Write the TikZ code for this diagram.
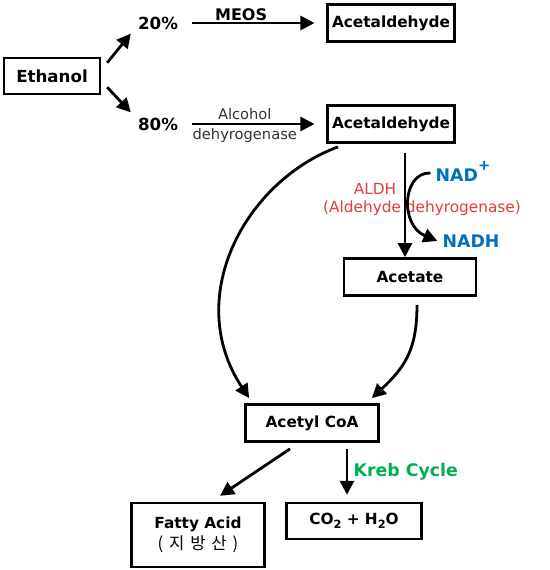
\documentclass[tikz,border=0pt]{standalone}
\usepackage{fontspec}
\setmainfont{DejaVu Sans}
\newfontfamily\krfont[LetterSpace=35]{Noto Sans CJK KR}
\usetikzlibrary{arrows.meta, positioning}
\definecolor{nadblue}{RGB}{0,112,192}
\definecolor{aldhred}{RGB}{226,60,60}
\definecolor{krebgreen}{RGB}{0,176,80}
\definecolor{enzgray}{RGB}{50,50,50}
\tikzset{
  box/.style={
    draw, line width=1.8pt, inner sep=2pt, align=center,
    font=\fontsize{11.5}{15}\selectfont\bfseries
  },
  pct/.style={inner sep=0pt, font=\fontsize{12.5}{15}\selectfont\bfseries},
  enzyme/.style={inner sep=0pt, font=\fontsize{11}{13}\selectfont, text=enzgray},
  aldhtext/.style={inner sep=0pt, font=\fontsize{11.5}{13}\selectfont, text=aldhred},
  cofactor/.style={inner sep=0pt, font=\fontsize{13}{15}\selectfont\bfseries, text=nadblue},
  arr/.style={line width=2.1pt, -{Triangle[length=10.5pt,width=10.5pt]}},
}
\begin{document}
\begin{tikzpicture}[x=0.75pt, y=-0.75pt]
  \useasboundingbox (0,0) rectangle (549,570);
  % boxes
  \node[box, minimum width=72pt, minimum height=27pt, font=\fontsize{12.5}{15}\selectfont\bfseries] (ethanol) at (52,76) {Ethanol};
  \node[box, minimum width=95pt, minimum height=28pt] (acet1) at (391,23) {Acetaldehyde};
  \node[box, minimum width=95pt, minimum height=28pt] (acet2) at (391,124) {Acetaldehyde};
  \node[box, minimum width=99pt, minimum height=28pt] (acetate) at (410,277) {Acetate};
  \node[box, minimum width=100pt, minimum height=28pt] (acetyl) at (312,423) {Acetyl CoA};
  \node[box, minimum width=100pt, minimum height=48pt] (fatty) at (198,535)
    {Fatty Acid\\[1pt]{\krfont\mdseries\fontsize{12.5}{14}\selectfont (지방산)}};
  \node[box, minimum width=101pt, minimum height=27pt] (water) at (354,521)
    {CO\raisebox{-0.45ex}{\fontsize{8.5}{9}\selectfont 2} + H\raisebox{-0.45ex}{\fontsize{8.5}{9}\selectfont 2}O};

  % percentages
  \node[pct] (pct20) at (158,23) {20\%};
  \node[pct] (pct80) at (158,124) {80\%};

  % labels
  \node[aldhtext] (aldh) at (375,189) {ALDH};
  \node[aldhtext] (aldhfull) at (422,208) {(Aldehyde dehyrogenase)};
  \node[cofactor] (nad) at (463,175) {NAD\smash{\raisebox{1.1ex}{\fontsize{11}{13}\selectfont +}}};
  \node[cofactor] (nadh) at (471,241) {NADH};

  % ethanol split
  \draw[arr] ([shift={(6,6)}]ethanol.north east) -- ([shift={(-7,4)}]pct20.south west);
  \draw[arr] ([shift={(6,-8)}]ethanol.south east) -- ([shift={(-7,-5)}]pct80.north west);

  % to acetaldehyde
  \draw[arr] ([shift={(14,0)}]pct20.east) -- node[pos=0.4, above=1pt, inner sep=0pt, font=\fontsize{12}{14}\selectfont\bfseries] {MEOS} ([shift={(-12,0)}]acet1.west);
  \draw[arr] ([shift={(14,0)}]pct80.east) -- node[pos=0.43, above=2pt, enzyme] {Alcohol}
    node[pos=0.43, below=2pt, enzyme] {dehyrogenase} ([shift={(-12,0)}]acet2.west);

  % ALDH step
  \coordinate (aldhtop) at ([shift={(14,9)}]acet2.south);
  \draw[arr] (aldhtop) -- (aldhtop |- acetate.north);
  \draw[arr] ([shift={(-5,-2)}]nad.west) .. controls +(-28,-1) and +(-38,-16) .. ([shift={(-5,0)}]nadh.west);

  % to acetyl CoA
  \draw[arr] ([shift={(-53,3)}]acet2.south) .. controls +(-94,35) and +(-66,-100) .. ([shift={(5,-5)}]acetyl.north west);
  \draw[arr] ([shift={(7,8)}]acetate.south) .. controls +(0,45) and +(33,-31) .. ([shift={(-8,-5)}]acetyl.north east);

  % from acetyl CoA
  \draw[arr] ([shift={(-22,6)}]acetyl.south) -- ([shift={(22,-6)}]fatty.north);
  \coordinate (kreb) at ([shift={(35,6)}]acetyl.south);
  \coordinate (krebend) at (kreb |- water.north);
  \draw[arr] (kreb) -- node[right=4pt, inner sep=0pt, font=\fontsize{13}{15}\selectfont\bfseries, text=krebgreen] {Kreb Cycle} ([shift={(0,-7)}]krebend);
\end{tikzpicture}
\end{document}
